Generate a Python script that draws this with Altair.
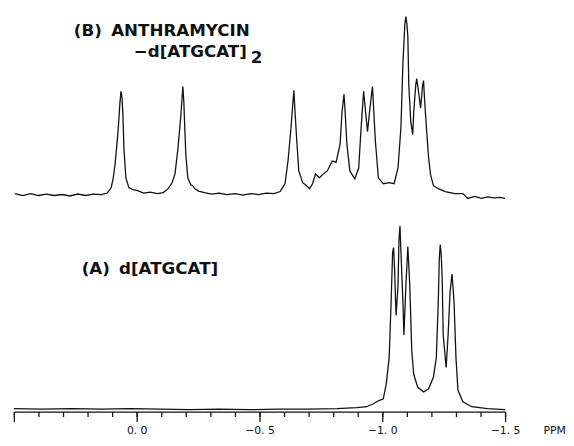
import altair as alt
import pandas as pd

# Spectrum (B): anthramycin-d[ATGCAT]2  (chemical shift in ppm, intensity arbitrary units)
b_ppm = [0.496, 0.464, 0.432, 0.400, 0.368, 0.336, 0.304, 0.272, 0.240, 0.208, 0.176, 0.144, 0.120,
         0.104, 0.096, 0.088, 0.076, 0.068, 0.064, 0.060, 0.056, 0.052, 0.044, 0.032, 0.016, -0.004,
         -0.028, -0.056, -0.084, -0.108,
         -0.128, -0.144, -0.156, -0.168, -0.180, -0.188, -0.192, -0.196, -0.200, -0.208, -0.220,
         -0.228, -0.236, -0.252, -0.276, -0.304, -0.336, -0.368, -0.400, -0.432, -0.464, -0.496,
         -0.528, -0.560, -0.584,
         -0.604, -0.616, -0.628, -0.636, -0.640, -0.644, -0.652, -0.660, -0.676, -0.692, -0.704,
         -0.716, -0.728, -0.744, -0.756, -0.776, -0.796, -0.812, -0.828, -0.836, -0.844, -0.848,
         -0.856, -0.868, -0.888, -0.904, -0.912, -0.920, -0.924, -0.932, -0.940, -0.948, -0.960,
         -0.964, -0.972, -0.984, -1.004, -1.028, -1.048, -1.064, -1.076, -1.084, -1.092, -1.096,
         -1.100, -1.104, -1.108, -1.116, -1.124, -1.128, -1.136, -1.140, -1.148, -1.156, -1.164,
         -1.168, -1.172, -1.180, -1.188, -1.196, -1.208, -1.228, -1.256, -1.276, -1.296, -1.328,
         -1.348, -1.376, -1.404, -1.428, -1.456, -1.480, -1.500]
b_int = [222, 220, 222, 220, 221.5, 220, 221, 219.5, 221.5, 220, 221.5, 221, 222.5,
         228, 237, 252, 285, 315, 326, 320, 302, 268, 238, 228, 226, 225,
         222.5, 223.5, 222, 223,
         227, 233, 242, 268, 302, 331, 315, 287, 262, 238, 231,
         230, 227, 224.5, 223, 221.5, 222.5, 221, 222, 220.5, 222, 221,
         222.5, 222, 224,
         232, 255, 288, 315, 327, 308, 275, 245, 233, 230, 227,
         232, 242, 238, 241, 245, 255, 254, 272, 305, 323, 308,
         272, 245, 237, 248, 282, 312, 326, 305, 285, 305, 331,
         312, 275, 238, 232, 233, 232, 248, 290, 355, 395, 402,
         395, 382, 332, 295, 282, 305, 332, 339, 325, 309, 332,
         337, 318, 288, 260, 242, 230, 227, 224, 223, 222, 222,
         217, 219, 217, 218.5, 217.5, 218, 217]

# Spectrum (A): d[ATGCAT]
a_ppm = [0.500, 0.384, 0.264, 0.144, 0.024, -0.096, -0.216, -0.336, -0.456, -0.576, -0.696,
         -0.816, -0.896, -0.936, -0.964, -0.984, -1.004, -1.016, -1.028, -1.036, -1.042, -1.046,
         -1.050, -1.056, -1.064, -1.068, -1.072, -1.076, -1.084, -1.088, -1.096, -1.104, -1.112,
         -1.120, -1.128, -1.144, -1.168, -1.188, -1.208, -1.220, -1.228, -1.232, -1.236, -1.240,
         -1.244, -1.248, -1.260, -1.268, -1.276, -1.284, -1.292, -1.300, -1.308, -1.328, -1.364,
         -1.428, -1.500]
a_int = [3, 2.5, 3, 2.5, 3, 2.5, 2, 2.5, 2, 2.5, 2.5,
         3, 4, 5, 8, 11, 13, 28, 55, 112, 162, 167,
         145, 98, 128, 175, 189, 162, 112, 78, 128, 168, 128,
         62, 38, 25, 20, 23, 35, 55, 112, 155, 170, 160,
         135, 78, 45, 78, 122, 140, 112, 55, 22, 10, 5,
         3, 2]

# Axis ticks
major_ticks = [0.5, 0.0, -0.5, -1.0, -1.5]
major_labels = ["", "0. 0", "\u22120. 5", "\u22121. 0", "\u22121. 5"]
minor_ticks = [0.5, 0.4, 0.3, 0.2, 0.1, 0.0, -0.1, -0.2, -0.3, -0.4, -0.5, -0.6, -0.7,
               -0.8, -0.9, -1.0, -1.1, -1.2, -1.3, -1.4, -1.5]

# Annotations
ann_text = ["(B)", "ANTHRAMYCIN", "\u2212d[ATGCAT]", "2", "(A)", "d[ATGCAT]"]
ann_ppm = [0.256, 0.104, 0.012, -0.464, 0.224, 0.072]
ann_int = [382, 382, 361, 355, 140, 140]

dfB = pd.DataFrame({"ppm": b_ppm, "I": b_int})
dfA = pd.DataFrame({"ppm": a_ppm, "I": a_int})
dfT = pd.DataFrame({"ppm": ann_ppm, "I": ann_int, "t": ann_text})

xscale = alt.Scale(domain=[-1.5, 0.5], reverse=True, nice=False, zero=False)
yscale = alt.Scale(domain=[0, 407], nice=False, zero=False)

expr = " : ".join(
    f"datum.value == {v} ? '{l}'" for v, l in zip(major_ticks, major_labels)
) + " : ''"

ink = "#111111"

lineB = alt.Chart(dfB).mark_line(color=ink, strokeWidth=1.3).encode(
    x=alt.X("ppm:Q", scale=xscale,
            axis=alt.Axis(orient="bottom", values=minor_ticks, tickSize=5, labels=False,
                          domain=False, title=None, grid=False, tickColor=ink, tickWidth=1.3)),
    y=alt.Y("I:Q", scale=yscale, axis=None),
)

lineA = alt.Chart(dfA).mark_line(color=ink, strokeWidth=1.3).encode(
    x=alt.X("ppm:Q", scale=xscale,
            axis=alt.Axis(orient="bottom", values=major_ticks, tickSize=10, labelExpr=expr,
                          grid=False, domain=True, domainColor=ink, domainWidth=1.5,
                          tickColor=ink, tickWidth=1.3,
                          labelFont="DejaVu Sans", labelFontSize=11, labelColor=ink,
                          labelPadding=3, labelFlush=False, labelOverlap=False,
                          title="PPM", titleFont="DejaVu Sans", titleFontSize=11,
                          titleFontWeight="normal", titleColor=ink,
                          titleX=550, titleY=22, titleAlign="center",
                          titleBaseline="alphabetic", titleAngle=0)),
    y=alt.Y("I:Q", scale=yscale, axis=None),
)

texts = alt.Chart(dfT).mark_text(align="left", baseline="alphabetic", font="DejaVu Sans",
                                 fontWeight="bold", fontSize=17, color=ink).encode(
    x=alt.X("ppm:Q", scale=xscale, axis=None),
    y=alt.Y("I:Q", scale=yscale, axis=None),
    text="t:N",
)

chart = alt.layer(lineB, lineA, texts).resolve_axis(x="independent").properties(
    width=500, height=407,
    padding={"left": 3, "top": 0, "right": 0, "bottom": 0},
).configure_view(stroke=None)

chart.save("out.html", embed_options={"renderer": "svg", "actions": False})
